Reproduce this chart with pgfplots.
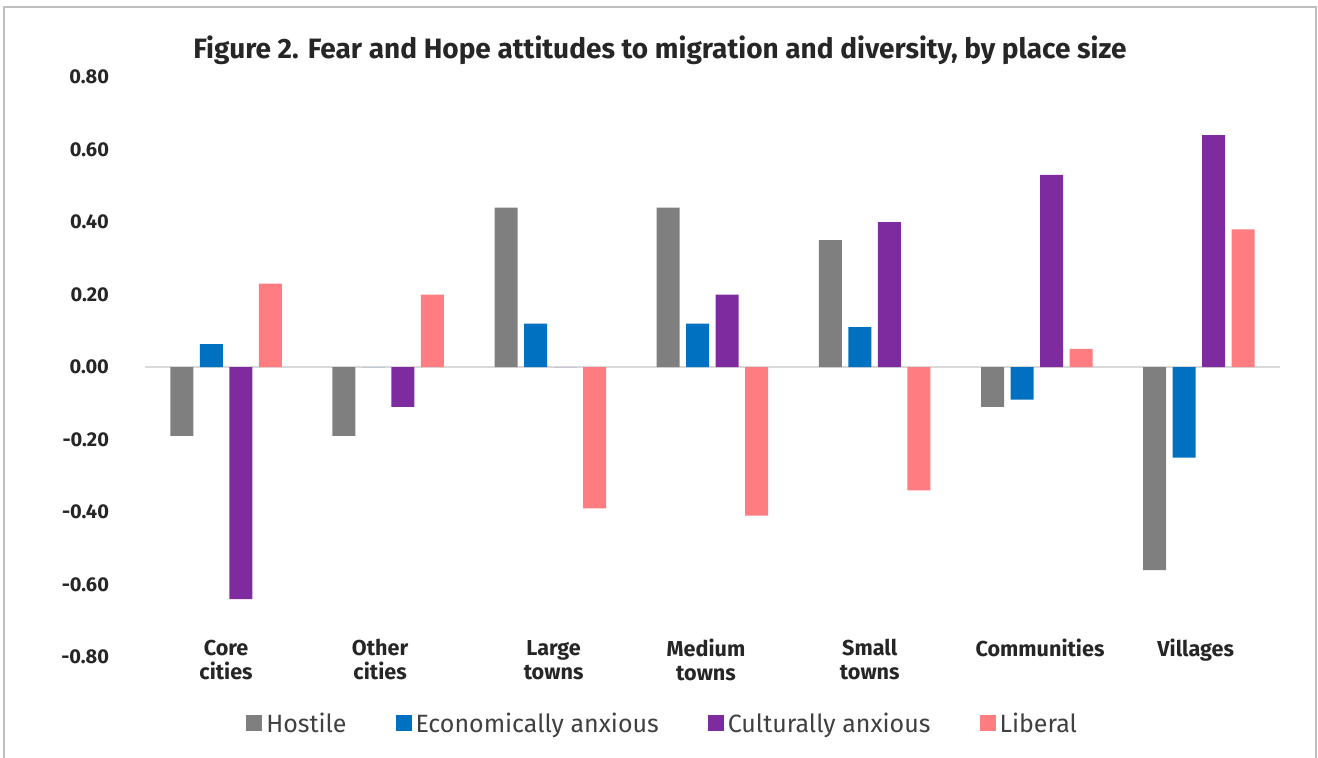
\documentclass[border=0pt]{standalone}
\usepackage{pgfplots}
\pgfplotsset{compat=1.18}
\usepackage{fontspec}
\setmainfont{Fira Sans}
\definecolor{cHost}{HTML}{7F7F7F}
\definecolor{cEcon}{HTML}{0070C0}
\definecolor{cCult}{HTML}{7F2BA0}
\definecolor{cLib}{HTML}{FF7C80}
\definecolor{txt}{HTML}{262626}
\definecolor{legtxt}{HTML}{404040}
\definecolor{frame}{HTML}{BFBFBF}
\definecolor{zeroline}{HTML}{D9D9D9}
\newcommand\hs{\rule{0pt}{8.2pt}}
\pgfplotstableread{
x host econ cult lib
0 -0.19 0.063 -0.64 0.23
1 -0.19 0.00 -0.11 0.20
2 0.44 0.12 0.00 -0.39
3 0.44 0.12 0.20 -0.41
4 0.35 0.11 0.40 -0.34
5 -0.11 -0.09 0.53 0.05
6 -0.56 -0.25 0.64 0.38
}\datatable
\begin{document}
\begin{tikzpicture}
\useasboundingbox (-72.5pt,-50pt) rectangle (586.5pt,328.5pt);
\draw[frame, line width=0.6pt] (-70.5pt,-52pt) -- (-70.5pt,325pt) -- (585.5pt,325pt) -- (585.5pt,-52pt);
\begin{axis}[
  at={(0,0)}, anchor=south west,
  scale only axis,
  width=567.5pt, height=290pt,
  ybar=3.25pt, bar width=11.5pt,
  xmin=-0.5, xmax=6.5, ymin=-0.8, ymax=0.8,
  axis line style={draw=none},
  tick style={draw=none},
  xtick={0,0.95,2.02,2.96,3.97,5.02,5.98},
  xticklabels={{\hs Core\\cities},{\hs Other\\cities},{\hs Large\\towns},{\hs Medium\\towns},{\hs Small\\towns},{\hs Communities},{\hs Villages}},
  x tick label style={font=\fontsize{10.8}{12}\selectfont\bfseries, text=txt, align=center, anchor=north, yshift=17pt},
  ytick={-0.8,-0.6,-0.4,-0.2,0,0.2,0.4,0.6,0.8},
  yticklabel style={font=\fontsize{10}{12}\selectfont\bfseries, text=txt, anchor=east, xshift=-14.5pt, /pgf/number format/.cd, fixed, fixed zerofill, precision=2, assume math mode=true},
  extra y ticks={0},
  extra y tick labels={},
  extra y tick style={grid=major, major grid style={zeroline, line width=1pt}},
  legend columns=4,
  legend style={draw=none, fill=none, at={(0.457,-0.1155)}, anchor=center,
    font=\fontsize{12.5}{14}\selectfont, text=legtxt,
    /tikz/every even column/.append style={column sep=22.5pt}},
  legend image code/.code={\fill[#1] (0pt,-3.5pt) rectangle (8pt,4.5pt);},
  clip=false,
]
\addplot[fill=cHost, draw=none] table[x=x,y=host]{\datatable};
\addplot[fill=cEcon, draw=none] table[x=x,y=econ]{\datatable};
\addplot[fill=cCult, draw=none] table[x=x,y=cult]{\datatable};
\addplot[fill=cLib, draw=none] table[x=x,y=lib]{\datatable};
\legend{Hostile,Economically anxious,Culturally anxious,Liberal}
\end{axis}
\node[font=\fontsize{14}{16}\selectfont\bfseries, text=txt] at (257.5pt,303.5pt) {Figure 2. Fear and Hope attitudes to migration and diversity, by place size};
\end{tikzpicture}
\end{document}
